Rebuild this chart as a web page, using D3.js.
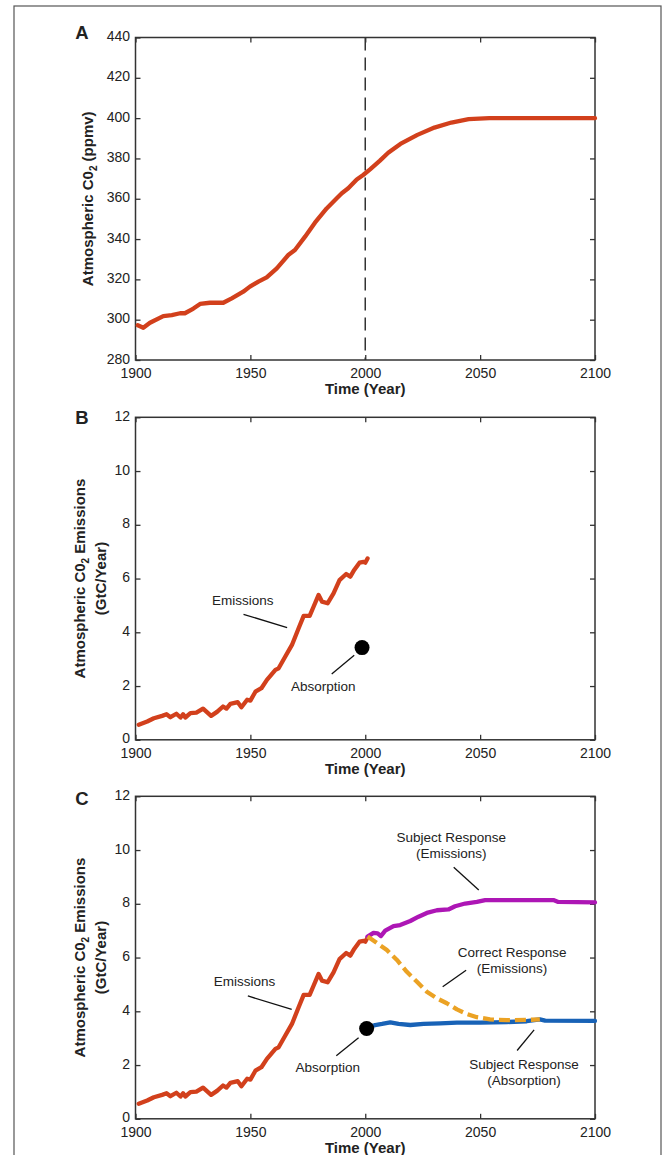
<!doctype html>
<html>
<head>
  <script src="https://d3js.org/d3.v7.min.js"></script>
</head>
<style>
  body {
    margin: 0;
    background: #fff;
  }

  svg text {
    font-family: "Liberation Sans", Arial, Helvetica, sans-serif;
    fill: #222;
  }
</style>
<body>
<svg></svg>

<script>
  // tick labels
  const xTicks = [1900, 1950, 2000, 2050, 2100];
  const co2Ticks = [280, 300, 320, 340, 360, 380, 400, 420, 440];
  const emisTicks = [0, 2, 4, 6, 8, 10, 12];

  // panel A: atmospheric CO2 (ppmv)
  const co2Years = [1901, 1903.4, 1906.3, 1912.1, 1915.8, 1919.4, 1921.5, 1925.2, 1928.1, 1932.4, 1938.2,
    1941.9, 1946.9, 1949.8, 1953.5, 1957.1, 1961.5, 1966.5, 1969.4, 1973.8, 1978.1, 1983.2, 1987.6,
    1989.8, 1992.6, 1996.3, 1999.1, 2002.1, 2006.4, 2010, 2015.3, 2022.7, 2030.1, 2037.5, 2045, 2054, 2100];
  const co2Values = [297.2, 296.0, 298.5, 301.8, 302.3, 303.2, 303.2, 305.5, 307.8, 308.4, 308.4,
    310.6, 313.9, 316.4, 318.9, 321.0, 325.5, 332.1, 334.6, 341.2, 348.1, 355.2, 360.2,
    362.7, 365.2, 369.6, 371.8, 374.6, 378.9, 382.8, 387.2, 391.7, 395.3, 397.8, 399.5, 400, 400];

  // panels B and C: historical emissions (GtC/Year)
  const emisYears = [1901.4, 1905.1, 1908, 1911.6, 1913.5, 1915.2, 1917.8, 1919.6, 1920.7, 1921.7, 1923.9,
    1926.5, 1929.4, 1932.9, 1935.5, 1938.1, 1939.6, 1941.3, 1944.5, 1946.1, 1948.6, 1950, 1952.2,
    1954.8, 1957.2, 1960.9, 1962.3, 1965.2, 1968.1, 1971, 1973.2, 1975.8, 1977.5, 1979.7, 1981.2,
    1983.6, 1986.2, 1988.8, 1991.7, 1993.5, 1995.2, 1997.5, 1999.3, 2000, 2001];
  const emisValues = [0.56, 0.68, 0.80, 0.89, 0.95, 0.84, 0.97, 0.83, 0.95, 0.83, 0.99,
    1.01, 1.16, 0.89, 1.04, 1.24, 1.16, 1.34, 1.40, 1.21, 1.49, 1.46, 1.79,
    1.92, 2.23, 2.60, 2.66, 3.10, 3.53, 4.15, 4.61, 4.61, 4.95, 5.39, 5.14,
    5.08, 5.45, 5.94, 6.17, 6.07, 6.32, 6.59, 6.62, 6.59, 6.75];

  // absorption point
  const absorptionB = [1998.6, 3.43];
  const absorptionC = [2000.6, 3.36];

  // panel C: subject response (emissions)
  const subjEmisYears = [2001, 2003.6, 2005.4, 2006.8, 2008.7, 2012.3, 2015.2, 2019.6, 2023.2, 2026.8,
    2031.2, 2036.2, 2039.1, 2043.5, 2048.6, 2052.2, 2081.9, 2084, 2100];
  const subjEmisValues = [6.78, 6.92, 6.90, 6.80, 7.00, 7.17, 7.21, 7.36, 7.52, 7.66,
    7.76, 7.79, 7.91, 8.01, 8.07, 8.14, 8.14, 8.07, 8.05];

  // panel C: correct response (emissions)
  const correctYears = [2001, 2004.3, 2009.4, 2013.8, 2018.1, 2022.5, 2026.8, 2031.2, 2035.5, 2039.9,
    2044.2, 2048.6, 2054.3, 2061.6, 2070.3, 2076];
  const correctValues = [6.78, 6.59, 6.28, 5.91, 5.47, 5.10, 4.73, 4.48, 4.30, 4.07,
    3.90, 3.78, 3.70, 3.67, 3.68, 3.70];

  // panel C: subject response (absorption)
  const subjAbsYears = [2000.6, 2004.3, 2007.3, 2010.9, 2014.5, 2019.6, 2025.4, 2032.6, 2039.9, 2050,
    2061.6, 2070.3, 2076, 2078.3, 2100];
  const subjAbsValues = [3.36, 3.49, 3.53, 3.59, 3.53, 3.49, 3.53, 3.55, 3.58, 3.58,
    3.60, 3.63, 3.70, 3.65, 3.64];

  const colRed = "#d2401c", colPurple = "#ad16b5", colOrange = "#eba224", colBlue = "#1862b6";
  const axisColor = "#333";
  const width = 669, height = 1155;
  const plotLeft = 135.5, plotRight = 595, plotH = 322.5;

  const svg = d3.select("svg")
    .attr("width", width)
    .attr("height", height);

  // outer frame
  svg.append("rect")
    .attr("x", 14).attr("y", 6)
    .attr("width", 647).attr("height", 1160)
    .attr("fill", "none")
    .attr("stroke", "#555")
    .attr("stroke-width", 1.2);

  const zip = (xs, ys) => xs.map((v, i) => [v, ys[i]]);

  function makePanel(top, yDomain, yTicks, letter, letterY) {
    const x = d3.scaleLinear().domain([1900, 2100]).range([plotLeft, plotRight]);
    const y = d3.scaleLinear().domain(yDomain).range([top + plotH, top]);
    const g = svg.append("g");

    const style = sel => {
      sel.select(".domain").remove();
      sel.selectAll("line").attr("stroke", axisColor).attr("stroke-width", 1.3);
      sel.selectAll("text").style("font-size", "14px").attr("fill", "#2a2a2a");
    };

    g.append("g").attr("transform", `translate(0,${top + plotH})`)
      .call(d3.axisBottom(x).tickValues(xTicks).tickFormat(d3.format("d")).tickSize(-5).tickPadding(8.5))
      .call(style);
    g.append("g").attr("transform", `translate(0,${top})`)
      .call(d3.axisTop(x).tickValues(xTicks).tickFormat("").tickSize(-5))
      .call(style);
    g.append("g").attr("transform", `translate(${plotLeft},0)`)
      .call(d3.axisLeft(y).tickValues(yTicks).tickSize(-5).tickPadding(5.5))
      .call(style)
      .call(sel => sel.selectAll("text").attr("dy", "0.22em"));
    g.append("g").attr("transform", `translate(${plotRight},0)`)
      .call(d3.axisRight(y).tickValues(yTicks).tickFormat("").tickSize(-5))
      .call(style);

    g.append("rect")
      .attr("x", plotLeft).attr("y", top)
      .attr("width", plotRight - plotLeft).attr("height", plotH)
      .attr("fill", "none")
      .attr("stroke", axisColor)
      .attr("stroke-width", 1.5);

    g.append("text")
      .attr("x", (plotLeft + plotRight) / 2)
      .attr("y", top + plotH + 29)
      .attr("dy", "0.35em")
      .attr("text-anchor", "middle")
      .style("font-size", "15px")
      .style("font-weight", "bold")
      .text("Time (Year)");

    g.append("text")
      .attr("x", 82)
      .attr("y", letterY)
      .attr("dy", "0.36em")
      .attr("text-anchor", "middle")
      .style("font-size", "18.5px")
      .style("font-weight", "bold")
      .text(letter);

    return { g, x, y, top };
  }

  function yLabel(p, lines) {
    const cy = p.top + plotH / 2;
    lines.forEach(function (l) {
      const t = p.g.append("text")
        .attr("transform", `translate(${l.x},${cy}) rotate(-90)`)
        .attr("dy", "0.35em")
        .attr("text-anchor", "middle")
        .style("font-size", "15px")
        .style("font-weight", "bold");
      if (l.sub) {
        t.append("tspan").text(l.text);
        t.append("tspan").attr("dy", 4).style("font-size", "10px").text("2");
        t.append("tspan").attr("dy", -4).text(l.rest);
      } else {
        t.text(l.text);
      }
    });
  }

  function drawLine(p, data, color, dash) {
    const line = d3.line().x(d => p.x(d[0])).y(d => p.y(d[1]));
    p.g.append("path")
      .datum(data)
      .attr("d", line)
      .attr("fill", "none")
      .attr("stroke", color)
      .attr("stroke-width", 4.3)
      .attr("stroke-linejoin", "round")
      .attr("stroke-linecap", dash ? "butt" : "round")
      .attr("stroke-dasharray", dash || null);
  }

  function annotate(p, texts, at, leader) {
    texts.forEach(function (t, i) {
      p.g.append("text")
        .attr("x", p.x(at[0]))
        .attr("y", p.y(at[1]) + i * 16.5)
        .attr("dy", "0.35em")
        .attr("text-anchor", "middle")
        .style("font-size", "13.5px")
        .text(t);
    });
    p.g.append("line")
      .attr("x1", p.x(leader[0][0])).attr("y1", p.y(leader[0][1]))
      .attr("x2", p.x(leader[1][0])).attr("y2", p.y(leader[1][1]))
      .attr("stroke", "#111")
      .attr("stroke-width", 1.3);
  }

  function dot(p, d) {
    p.g.append("circle")
      .attr("cx", p.x(d[0]))
      .attr("cy", p.y(d[1]))
      .attr("r", 7.5)
      .attr("fill", "#000");
  }

  // panel A
  const pA = makePanel(37.5, [280, 440], co2Ticks, "A", 32.5);
  yLabel(pA, [{ x: 88, sub: true, text: "Atmospheric C0", rest: " (ppmv)" }]);
  pA.g.append("line")
    .attr("x1", pA.x(2000)).attr("x2", pA.x(2000))
    .attr("y1", pA.y(440)).attr("y2", pA.y(280))
    .attr("stroke", axisColor)
    .attr("stroke-width", 1.5)
    .attr("stroke-dasharray", "13,7");
  drawLine(pA, zip(co2Years, co2Values), colRed);

  // panel B
  const pB = makePanel(417.3, [0, 12], emisTicks, "B", 417.7);
  yLabel(pB, [
    { x: 80, sub: true, text: "Atmospheric C0", rest: " Emissions" },
    { x: 101, text: "(GtC/Year)" }
  ]);
  drawLine(pB, zip(emisYears, emisValues), colRed);
  dot(pB, absorptionB);
  annotate(pB, ["Emissions"], [1946.7, 5.2], [[1947.0, 4.67], [1966.0, 4.17]]);
  annotate(pB, ["Absorption"], [1981.7, 2.01], [[1985.4, 2.45], [1995.2, 3.15]]);

  // panel C
  const pC = makePanel(796.3, [0, 12], emisTicks, "C", 798.3);
  yLabel(pC, [
    { x: 80, sub: true, text: "Atmospheric C0", rest: " Emissions" },
    { x: 101, text: "(GtC/Year)" }
  ]);
  drawLine(pC, zip(emisYears, emisValues), colRed);
  drawLine(pC, zip(subjEmisYears, subjEmisValues), colPurple);
  drawLine(pC, zip(subjAbsYears, subjAbsValues), colBlue);
  drawLine(pC, zip(correctYears, correctValues), colOrange, "11,5");
  dot(pC, absorptionC);
  annotate(pC, ["Subject Response", "(Emissions)"], [2037.4, 10.48], [[2038.5, 9.36], [2049.4, 8.51]]);
  annotate(pC, ["Correct Response", "(Emissions)"], [2063.9, 6.20], [[2043.9, 5.53], [2033.7, 4.91]]);
  annotate(pC, ["Emissions"], [1947.4, 5.10], [[1948.9, 4.57], [1968.0, 4.07]]);
  annotate(pC, ["Absorption"], [1983.7, 1.91], [[1987.4, 2.35], [1997.1, 3.02]]);
  annotate(pC, ["Subject Response", "(Absorption)"], [2069.1, 2.04], [[2066.1, 2.54], [2073.5, 3.31]]);
</script>
</body>
</html>
